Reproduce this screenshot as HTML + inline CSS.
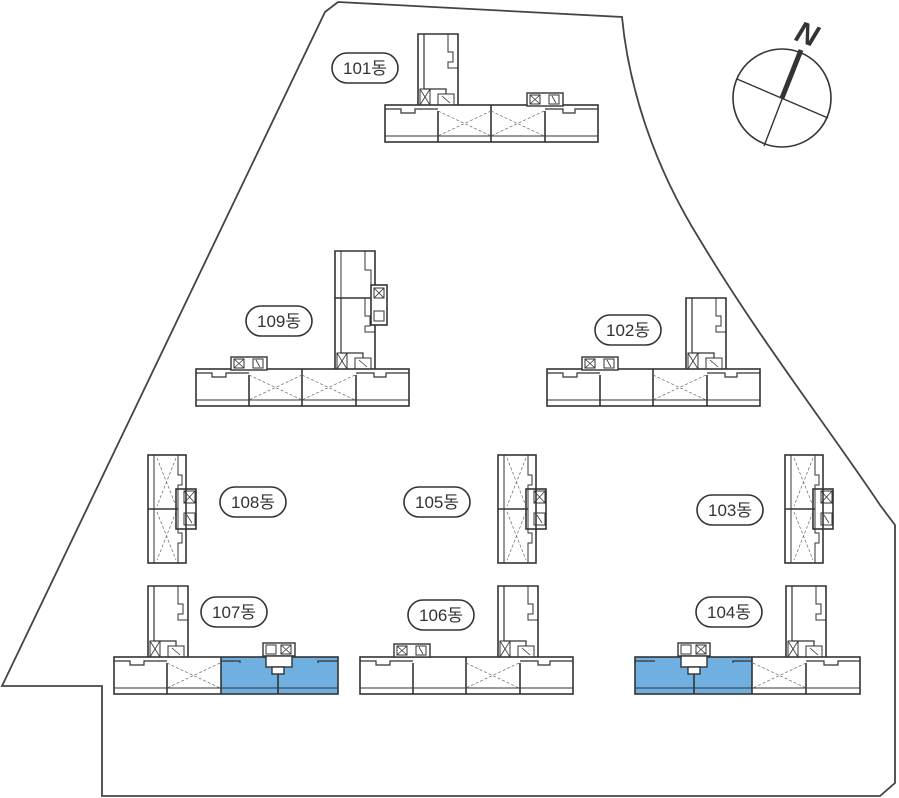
<!DOCTYPE html>
<html><head><meta charset="utf-8"><style>
html,body{margin:0;padding:0;background:#fff;width:899px;height:798px;overflow:hidden}
svg{display:block}
text{font-family:"Liberation Sans","Noto Sans CJK KR",sans-serif;fill:#333}
</style></head><body>
<svg width="899" height="798" viewBox="0 0 899 798" xmlns="http://www.w3.org/2000/svg">
<defs>
 <g id="slab" fill="none" stroke="#333" stroke-width="1.6">
  <rect x="0" y="0" width="213" height="37"/>
  <line x1="0" y1="31" x2="213" y2="31" stroke-width="1"/>
  <path d="M0 4 H16 V8 H30 V4 H53 M160 4 H178 V8 H190 V4 H213" stroke-width="1.2"/>
  <line x1="53" y1="6" x2="53" y2="37"/>
  <line x1="106" y1="0" x2="106" y2="37"/>
  <line x1="160" y1="6" x2="160" y2="37"/>
 </g>
 <g id="xcell" stroke="#666" stroke-width="0.7" stroke-dasharray="3,2">
  <line x1="0" y1="6" x2="53" y2="31"/><line x1="53" y1="6" x2="0" y2="31"/>
 </g>
 <g id="tower" fill="none" stroke="#333" stroke-width="1.6">
  <path d="M0 71 V0 H40 V71"/>
  <path d="M6 0 V55 H28 V60" stroke-width="1.2"/>
  <path d="M30 0 V18 H35 V28 H30 V34 H40" stroke-width="1"/>
  <rect x="2" y="55" width="10" height="16" stroke-width="1"/>
  <path d="M2 55 L12 71 M12 55 L2 71" stroke-width="0.8"/>
  <rect x="20" y="60" width="16" height="11" stroke-width="1"/>
  <path d="M24 62 L32 69" stroke-width="0.8"/>
 </g>
 <g id="vbld" fill="none" stroke="#333" stroke-width="1.6">
  <rect x="0" y="0" width="38" height="108"/>
  <line x1="6" y1="0" x2="6" y2="108" stroke-width="1"/>
  <line x1="0" y1="54" x2="30" y2="54"/>
  <path d="M30 0 V20 H34 V30 H30 V78 H34 V88 H30 V108" stroke-width="1"/>
  <path d="M9 3 L28 51 M28 3 L9 51 M9 57 L28 105 M28 57 L9 105" stroke="#666" stroke-width="0.7" stroke-dasharray="3,2"/>
  <rect x="28" y="34" width="20" height="40"/>
  <rect x="36" y="36" width="11" height="12" stroke-width="1"/>
  <path d="M36 36 L47 48 M47 36 L36 48" stroke-width="0.8"/>
  <rect x="36" y="58" width="11" height="12" stroke-width="1"/>
  <path d="M39 60 L44 68" stroke-width="0.8"/>
 </g>
 <g id="pill"><rect x="0" y="0" width="66" height="30" rx="15" fill="#fff" stroke="#333" stroke-width="1.6"/></g>
 <g id="sbox" fill="#fff" stroke="#333" stroke-width="1.4">
  <rect x="0" y="0" width="36" height="13"/>
  <rect x="3" y="2" width="10" height="9" stroke-width="1"/><path d="M3 2 L13 11 M13 2 L3 11" stroke-width="0.8"/>
  <rect x="22" y="2" width="10" height="9" stroke-width="1"/><path d="M25 3 L29 10" stroke-width="0.8"/>
 </g>
</defs>

<!-- boundary -->
<path d="M2 686 L325 12 L338 2 L622 17 C628 80 650 160 700 240 C760 340 830 430 880 505 L895 525 L895 783 L880 796 L102 796 L102 686 Z" fill="none" stroke="#444" stroke-width="1.8"/>

<!-- compass -->
<circle cx="782" cy="98" r="49" fill="none" stroke="#333" stroke-width="1.6"/>
<line x1="801" y1="50" x2="764" y2="146" stroke="#333" stroke-width="1.4"/>
<line x1="782" y1="98" x2="801" y2="50" stroke="#333" stroke-width="5"/>
<line x1="737" y1="79" x2="828" y2="118" stroke="#333" stroke-width="1.4"/>
<text x="797" y="45" font-size="30" font-weight="bold" font-style="italic" fill="#333" transform="rotate(20 810 32)">N</text>

<!-- 101 -->
<use href="#slab" x="385" y="105"/><use href="#xcell" x="438" y="105"/><use href="#xcell" x="491" y="105"/>
<use href="#tower" x="418" y="34"/>
<use href="#sbox" x="527" y="93"/>
<!-- 109 -->
<use href="#slab" x="196" y="369"/><use href="#xcell" x="249" y="369"/><use href="#xcell" x="302" y="369"/>
<use href="#tower" x="335" y="298"/>
<g fill="none" stroke="#333" stroke-width="1.6"><path d="M335 298 V251 H375 V298"/><path d="M341 251 V298" stroke-width="1"/><path d="M365 251 V270 H371 V285" stroke-width="1"/>
<rect x="371" y="285" width="16" height="40" fill="#fff"/><rect x="374" y="288" width="10" height="10" stroke-width="1"/><path d="M374 288 L384 298 M384 288 L374 298" stroke-width="0.8"/><rect x="374" y="311" width="10" height="10" stroke-width="1"/></g>
<use href="#sbox" x="231" y="357"/>
<!-- 102 -->
<use href="#slab" x="547" y="369"/><use href="#xcell" x="653" y="369"/>
<use href="#tower" x="686" y="298"/>
<use href="#sbox" x="582" y="357"/>
<!-- verticals -->
<use href="#vbld" x="148" y="455"/><use href="#vbld" x="498" y="455"/><use href="#vbld" x="785" y="455"/>
<!-- 107 -->
<rect x="221" y="657" width="117" height="37" fill="#6fb0e0"/>
<g fill="none" stroke="#333" stroke-width="1.6">
 <rect x="114" y="657" width="224" height="37"/>
 <line x1="114" y1="688" x2="338" y2="688" stroke-width="1"/>
 <path d="M114 661 H130 V665 H144 V661 H167 M221 661 H240 V663 M318 663 V661 H338" stroke-width="1.2"/>
 <line x1="167" y1="663" x2="167" y2="694"/><line x1="221" y1="657" x2="221" y2="694"/><line x1="278" y1="668" x2="278" y2="694"/>
</g>
<use href="#xcell" x="167" y="657"/>
<use href="#tower" x="148" y="586"/>
<g fill="#fff" stroke="#333" stroke-width="1.4"><rect x="263" y="643" width="32" height="13"/><rect x="266" y="656" width="26" height="11"/><rect x="272" y="667" width="12" height="7"/>
<rect x="266" y="645" width="10" height="9" stroke-width="1"/><rect x="281" y="645" width="10" height="9" stroke-width="1"/><path d="M281 645 L291 654 M291 645 L281 654" stroke-width="0.8"/></g>
<!-- 106 -->
<use href="#slab" x="360" y="657"/><use href="#xcell" x="466" y="657"/>
<use href="#tower" x="498" y="586"/>
<use href="#sbox" x="394" y="644"/>
<!-- 104 -->
<rect x="635" y="657" width="117" height="37" fill="#6fb0e0"/>
<g fill="none" stroke="#333" stroke-width="1.6">
 <rect x="635" y="657" width="225" height="37"/>
 <line x1="635" y1="688" x2="860" y2="688" stroke-width="1"/>
 <path d="M635 663 V661 H655 M733 663 V661 H752 M806 661 H824 V665 H838 V661 H860" stroke-width="1.2"/>
 <line x1="694" y1="668" x2="694" y2="694"/><line x1="752" y1="657" x2="752" y2="694"/><line x1="806" y1="663" x2="806" y2="694"/>
</g>
<use href="#xcell" x="753" y="657"/>
<use href="#tower" x="786" y="586"/>
<g fill="#fff" stroke="#333" stroke-width="1.4"><rect x="678" y="643" width="32" height="13"/><rect x="681" y="656" width="26" height="11"/><rect x="688" y="667" width="12" height="7"/>
<rect x="681" y="645" width="10" height="9" stroke-width="1"/><rect x="696" y="645" width="10" height="9" stroke-width="1"/><path d="M696 645 L706 654 M706 645 L696 654" stroke-width="0.8"/></g>

<!-- labels -->
<g font-size="17">
<use href="#pill" x="332" y="53"/><text x="365" y="74" text-anchor="middle">101동</text>
<use href="#pill" x="246" y="306"/><text x="279" y="327" text-anchor="middle">109동</text>
<use href="#pill" x="595" y="315"/><text x="628" y="336" text-anchor="middle">102동</text>
<use href="#pill" x="220" y="487"/><text x="253" y="508" text-anchor="middle">108동</text>
<use href="#pill" x="404" y="487"/><text x="437" y="508" text-anchor="middle">105동</text>
<use href="#pill" x="697" y="495"/><text x="730" y="516" text-anchor="middle">103동</text>
<use href="#pill" x="201" y="597"/><text x="234" y="618" text-anchor="middle">107동</text>
<use href="#pill" x="408" y="600"/><text x="441" y="621" text-anchor="middle">106동</text>
<use href="#pill" x="696" y="597"/><text x="729" y="618" text-anchor="middle">104동</text>
</g>
</svg>
</body></html>
